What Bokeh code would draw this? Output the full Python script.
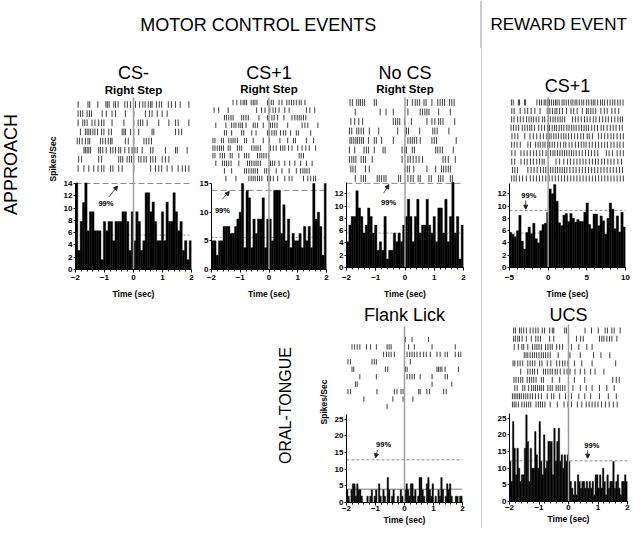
import numpy as np
from bokeh.plotting import figure
from bokeh.layouts import row, column
from bokeh.models import Range1d, Span, Label, Arrow, NormalHead, FixedTicker, Spacer
from bokeh.embed import file_html
from bokeh.resources import INLINE

FONT = "Liberation Sans"
EVENT_TIME = 0.0

# ---------------- data ----------------
# PSTH bin values (spikes/sec)
CSM_HIST = [14.1, 3.1, 7.8, 10.9, 14.1, 6.3, 9.4, 9.4, 6.3, 6.3, 6.3, 1.6, 7.8, 6.3, 7.8, 7.8, 4.7, 7.8, 7.8, 7.8,
            9.4, 9.4, 7.8, 3.1, 9.4, 4.7, 9.4, 7.8, 3.1, 4.7, 12.5, 12.5, 9.4, 11.0, 7.8, 4.7, 4.7, 9.4, 4.7, 11.0,
            7.8, 7.8, 12.5, 9.4, 6.3, 7.8, 3.1, 4.7, 1.6, 4.7]
CSP_HIST = [5, 5, 2.5, 5, 5, 7.5, 7.5, 7.5, 6.3, 6.3, 7.5, 8.8, 10, 15, 3.8, 13.8, 12.5, 3.8, 8.8, 6.3,
            8.8, 8.8, 12.5, 3.8, 8.8, 8.8, 5, 13.8, 13.8, 13.8, 6.3, 11.3, 5, 8.8, 3.8, 6.3, 5, 5, 6.3, 3.8,
            7.5, 5, 7.5, 3.8, 15, 8.8, 10, 7.5, 2.5, 15]
NOCS_HIST = [4.2, 6.9, 8.3, 8.3, 12.5, 9.7, 8.3, 5.6, 6.9, 9.7, 8.3, 5.6, 6.9, 2.8, 4.2, 2.8, 8.3, 1.4, 2.8, 2.8,
             5.6, 4.2, 5.6, 4.2, 6.9, 8.3, 11.1, 8.3, 4.2, 8.3, 11.1, 5.6, 6.9, 6.9, 11.1, 6.9, 5.6, 8.3, 4.2, 9.7,
             9.7, 5.6, 11.1, 4.2, 8.3, 13.9, 5.6, 8.3, 1.4, 6.9]
RWD_HIST = [5.7, 5.4, 5.0, 6.0, 8.5, 4.3, 3.0, 5.7, 6.6, 5.5, 7.2, 4.7, 4.0, 6.0, 7.0, 7.2, 9.0, 12.8, 12.0, 13.5,
            10.8, 7.3, 6.8, 8.5, 8.8, 7.5, 8.8, 8.0, 7.4, 7.8, 7.5, 7.5, 9.0, 10.5, 7.0, 6.3, 8.7, 8.7, 6.8, 8.4,
            7.6, 5.4, 8.0, 10.5, 9.5, 6.3, 8.4, 5.8, 9.0, 6.6]
FLANK_HIST = [3.8, 1.9, 0, 3.8, 5.6, 5.6, 1.9, 5.6, 3.8, 3.8, 1.9, 0, 0, 0, 1.9, 0, 1.9, 3.8, 0, 1.9,
              3.8, 0, 5.6, 1.9, 0, 3.8, 1.9, 0, 7.5, 3.8, 0, 1.9, 3.8, 0, 0, 1.9, 0, 3.8, 1.9, 0,
              3.8, 5.6, 3.8, 1.9, 5.6, 5.6, 1.9, 3.8, 0, 1.9, 7.5, 7.5, 3.8, 1.9, 0, 5.6, 7.5, 3.8, 1.9, 5.6,
              0, 1.9, 0, 3.8, 1.9, 7.5, 3.8, 0, 1.9, 5.6, 3.8, 5.6, 1.9, 0, 0, 1.9, 1.9, 0, 1.9, 1.9]
UCS_HIST = [12, 6, 24, 16, 8, 16, 10, 6, 8, 8, 16, 26, 18, 6, 16, 10, 10, 21, 14, 10,
            24, 12, 8, 20, 10, 12, 18, 18, 18, 8, 22, 12, 18, 22, 12, 14, 10, 14, 12, 14,
            12, 6, 4, 2, 6, 2, 8, 6, 4, 6, 6, 4, 6, 4, 6, 4, 6, 2, 8, 8,
            4, 8, 4, 10, 6, 2, 8, 4, 6, 6, 12, 4, 6, 8, 4, 2, 6, 6, 8, 6]

# 99% threshold and mean rate lines
THRESH = {"csm": 14.0, "csp": 13.8, "nocs": 13.7, "rwd": 9.3, "flank": 12.8, "ucs": 12.2}
MEAN = {"csm": 5.6, "csp": 5.6, "nocs": 5.6, "rwd": 5.6, "flank": 4.0, "ucs": None}

# raster spike times (sec), one list per trial, top trial first
CSM_RASTER = [
    [-1.91, -1.57, -1.51, -1.23, -0.95, -0.90, -0.84, -0.68, -0.62, -0.53, -0.30, -0.21, -0.10, 0.07, 0.21, 0.32, 0.40, 0.51, 0.59, 0.64, 0.79, 0.89, 0.97, 1.20, 1.31, 1.45, 1.61, 1.91],
    [-1.91, -1.83, -1.75, -1.60, -1.52, -1.45, -1.08, -0.94, -0.74, -0.62, -0.28, 0.01, 0.41, 0.55, 0.64, 0.82, 0.99, 1.16],
    [-1.91, -1.75, -1.68, -1.60, -1.43, -1.33, -1.20, -1.10, -1.02, -0.74, -0.33, 0.01, 0.16, 0.24, 0.32, 0.47, 0.87, 1.22, 1.45, 1.54, 1.91],
    [-1.83, -1.66, -1.60, -1.54, -1.48, -1.40, -1.33, -1.24, -1.10, -1.02, -0.85, -0.76, -0.39, -0.33, -0.28, -0.10, 0.01, 0.18, 0.64, 0.70, 1.45, 1.56, 1.66],
    [-1.94, -1.86, -1.77, -1.66, -1.57, -1.51, -1.14, -1.06, -0.97, -0.87, -0.79, -0.74, -0.28, -0.18, 0.01, 0.36, 0.44, 0.53, 0.62],
    [-1.71, -1.66, -1.60, -1.54, -1.48, -1.20, -1.14, -1.06, -0.94, -0.79, -0.71, -0.62, -0.51, -0.44, -0.30, -0.16, -0.05, 0.05, 0.13, 0.30, 0.59, 0.67, 1.10, 1.45, 1.51, 1.85],
    [-1.89, -1.79, -1.20, -1.10, -0.51, -0.44, -0.37, -0.22, -0.14, -0.07, 0.01, 0.18, 0.26, 0.36, 0.44, 0.59, 0.67, 0.76, 0.99, 1.10, 1.22],
    [-1.91, -1.71, -1.54, -1.37, -1.22, -1.10, -1.02, -0.79, -0.71, -0.51, -0.39, 0.01, 0.59, 0.76, 0.87, 0.97, 1.16, 1.33, 1.54, 1.68, 1.79, 1.91],
]
CSP_RASTER = [
    [-1.25, -1.12, -0.98, -0.90, -0.84, -0.78, -0.62, -0.55, -0.49, -0.42, -0.05, 0.08, 0.15, 0.35, 0.45, 0.62, 0.70, 0.78, 0.86, 0.95, 1.05, 1.12, 1.25],
    [-1.91, -1.75, -1.42, -0.43, -0.26, -0.14, 0.03, 0.14, 0.23, 0.35, 0.55, 0.70, 1.30, 1.42, 1.59],
    [-1.55, -1.48, -1.40, -1.32, -1.25, -0.95, -0.88, -0.80, -0.72, -0.35, -0.05, 0.10, 0.18, 0.30, 0.52, 0.80, 0.90, 0.98, 1.05, 1.12, 1.20, 1.28],
    [-1.85, -1.50, -1.30, -1.22, -1.15, -1.05, -0.98, -0.92, -0.80, -0.55, -0.48, -0.40, -0.20, 0.05, 0.12, 0.20, 0.28, 0.65, 1.15, 1.25, 1.35, 1.70],
    [-1.55, -1.48, -1.30, -0.95, -0.88, -0.60, -0.45, -0.05, 0.02, 0.10, 0.18, 0.25, 0.40, 0.50, 0.58, 0.75, 0.95, 1.02, 1.45],
    [-1.95, -1.88, -1.65, -1.58, -1.40, -1.32, -1.25, -1.18, -1.10, -0.85, -0.78, -0.55, -0.20, 0.02, 0.38, 0.65, 0.85, 0.92, 1.30, 1.55],
    [-1.95, -1.88, -1.80, -1.72, -1.65, -1.58, -1.42, -1.35, -1.10, -1.02, -0.95, -0.60, -0.52, -0.45, -0.38, -0.30, 0.05, 0.15, 0.25, 0.40, 0.48, 0.55, 0.68, 0.80, 1.00, 1.15, 1.28, 1.40, 1.62],
    [-1.95, -1.88, -1.70, -1.62, -1.55, -1.35, -1.28, -1.05, -0.85, -0.78, -0.70, -0.40, -0.32, -0.25, -0.18, -0.10, -0.02, 1.05, 1.12, 1.20],
    [-1.85, -1.62, -1.55, -1.48, -1.40, -1.32, -1.05, -0.75, -0.68, -0.60, -0.52, -0.45, -0.38, -0.30, 0.05, 0.12, 0.20, 0.35, 0.55, 0.72, 0.90, 1.10, 1.30, 1.50],
    [-1.55, -1.30, -0.85, -0.78, -0.70, -0.62, -0.55, -0.48, -0.40, -0.15, -0.08, 0.00, 0.25, 0.45, 0.70, 0.95, 1.10, 1.18, 1.25, 1.32, 1.40],
    [-1.50, -1.15, -0.70, -0.62, -0.55, -0.48, -0.40, -0.33, -0.25, -0.05, 0.05, 0.15, 0.30, 0.55, 0.70, 0.80, 1.20, 1.35, 1.45, 1.55, 1.62],
]
NOCS_RASTER = [
    [-1.88, -1.80, -1.65, -1.58, -1.52, -1.45, -1.38, -1.05, -0.98, 0.08, 0.25, 0.35, 0.42, 0.50, 0.65, 0.72, 0.92, 1.12, 1.20, 1.28, 1.35, 1.52, 1.60, 1.68],
    [-1.70, -0.85, -0.65, -0.40, 0.10, 0.52, 0.60, 0.68, 0.75, 0.82, 1.15, 1.55],
    [-1.85, -1.72, -1.58, -1.45, -0.40, -0.32, -0.25, -0.18, -0.02, 0.22, 0.75, 0.92, 1.02, 1.15, 1.22, 1.30, 1.70],
    [-1.90, -1.82, -1.65, -1.58, -1.50, -1.42, -1.22, -0.90, -0.25, 0.05, 0.12, 0.50, 0.95, 1.02, 1.10, 1.50],
    [-1.88, -1.82, -1.75, -1.68, -1.62, -1.55, -1.48, -1.42, -1.25, -1.05, -0.98, -0.80, -0.40, 0.10, 0.18, 0.25, 0.32, 0.40, 0.52, 0.92, 1.00, 1.08, 1.75],
    [-1.90, -1.72, -1.40, -1.32, -1.25, -1.05, -0.75, -0.68, -0.10, -0.02, 0.05, 0.25, 0.32, 1.05, 1.12, 1.20, 1.28, 1.65],
    [-1.90, -1.82, -1.75, -1.68, -1.50, -1.42, -1.35, -1.12, -0.10, 0.10, 0.18, 0.28, 0.38, 0.48, 0.60, 1.30, 1.38, 1.48, 1.72],
    [-1.85, -1.78, -1.70, -1.35, -1.22, 0.00, 0.08, 0.15, 0.30, 0.75, 1.05, 1.25, 1.32, 1.40, 1.48, 1.55],
    [-1.70, -1.50, -1.42, -1.35, -0.95, -0.88, -0.80, -0.72, -0.65, -0.22, -0.15, 0.10, 0.20, 0.28, 0.45, 0.52, 0.82, 0.90, 1.15, 1.22, 1.30, 1.55, 1.62],
]
RWD_RASTER = [
    [-4.75, -4.52, -3.85, -3.70, -3.05, -2.92, -1.45, -1.12, -0.85, -0.52, -0.30, -0.05, 0.18, 0.44, 0.70, 0.95, 1.15, 1.42, 1.80, 2.05, 2.33, 2.62, 2.95, 3.20, 3.48, 3.71, 4.02, 4.35, 4.60, 4.98, 5.25, 5.58, 5.83, 6.05, 6.40, 6.77, 7.02, 7.30, 7.66, 8.01, 8.35, 8.62, 9.00, 9.31, 9.68],
    [-4.70, -4.40, -3.62, -3.01, -2.65, -2.20, -1.72, -1.05, -0.12, 0.22, 0.55, 0.88, 1.12, 1.48, 1.85, 2.38, 2.95, 3.30, 3.75, 4.42, 4.95, 5.18, 5.52, 5.81, 6.15, 6.82, 7.26, 7.63, 8.24, 8.66, 9.12],
    [-4.72, -4.41, -3.95, -3.60, -3.22, -2.80, -2.48, -2.18, -1.88, -1.55, -1.20, -0.72, -0.45, 0.02, 0.28, 0.63, 0.91, 1.25, 1.55, 1.82, 2.14, 3.15, 3.52, 3.88, 4.28, 4.70, 5.05, 5.42, 5.84, 6.18, 6.63, 7.05, 7.44, 7.78, 8.20, 8.62, 9.02, 9.33, 9.62],
    [-4.80, -4.48, -4.15, -3.82, -3.35, -3.02, -2.70, -2.38, -2.12, -1.76, -1.22, -0.84, -0.48, -0.08, 0.18, 0.52, 0.83, 1.06, 1.42, 1.71, 2.03, 2.41, 2.70, 3.04, 3.33, 3.62, 3.98, 4.31, 4.64, 4.92, 5.22, 5.63, 6.01, 6.38, 6.85, 7.18, 7.62, 8.04, 8.41, 8.78, 9.21, 9.58],
    [-4.68, -4.30, -3.92, -3.02, -2.35, -1.92, -1.48, -1.02, -0.62, -0.18, 0.12, 0.38, 0.72, 1.02, 1.33, 1.68, 2.02, 2.31, 2.64, 3.02, 3.42, 3.81, 4.22, 4.58, 5.04, 5.31, 5.72, 6.52, 6.88, 7.31, 7.72, 8.12, 8.48, 8.91, 9.34, 9.72],
    [-4.72, -4.38, -4.02, -3.61, -2.62, -2.28, -1.62, -1.30, -1.02, -0.68, -0.41, -0.08, 0.21, 0.52, 0.83, 1.22, 1.58, 2.01, 2.28, 2.72, 3.08, 3.52, 3.92, 4.28, 4.62, 4.90, 5.32, 5.70, 6.11, 6.52, 6.92, 7.31, 7.68, 8.12, 8.51, 8.92, 9.28, 9.71],
    [-4.70, -4.28, -3.52, -3.12, -2.72, -2.31, -1.88, -1.52, -1.08, -0.72, -0.28, 0.02, 0.31, 0.62, 0.88, 1.21, 1.52, 1.82, 2.12, 2.41, 2.72, 3.02, 3.31, 3.62, 4.02, 4.41, 4.82, 5.22, 5.61, 6.02, 6.41, 7.52, 7.88, 8.31, 8.92, 9.32, 9.71],
    [-4.71, -4.32, -3.51, -3.08, -2.72, -2.28, -1.91, -1.48, -1.12, -0.78, -0.52, 1.02, 1.48, 2.02, 2.51, 2.88, 3.32, 3.72, 4.12, 4.51, 4.88, 5.32, 5.72, 6.12, 6.48, 6.92, 7.28, 7.72, 8.12, 8.52, 9.02, 9.48],
    [-4.62, -4.31, -3.98, -2.62, -2.21, -1.82, -1.42, -0.98, -0.62, -0.31, 0.02, 0.32, 0.61, 0.92, 1.22, 1.52, 1.81, 2.12, 2.42, 2.81, 3.22, 3.61, 4.02, 4.42, 4.81, 5.22, 5.62, 6.02, 6.42, 6.82, 7.22, 7.62, 8.02, 8.42, 8.82, 9.22, 9.61],
    [-4.72, -4.41, -4.12, -3.72, -3.31, -2.82, -2.31, -1.92, -1.52, -1.12, -0.72, -0.31, 0.12, 0.52, 0.92, 1.32, 1.72, 2.12, 2.52, 2.92, 3.32, 3.72, 4.12, 4.52, 4.92, 5.32, 5.72, 6.12, 6.52, 6.92, 7.32, 7.72, 8.12, 8.52, 8.92, 9.32, 9.72],
]
FLANK_RASTER = [
    [0.03, 0.26, 0.83],
    [-1.81, -1.72, -1.63, -1.54, -1.31, -1.17, -0.97, -0.60, -0.53, -0.46, 0.14, 0.34, 0.95, 1.75],
    [-0.72, -0.62, -0.54, -0.46, -0.35, 0.09, 0.18, 0.26, 0.34, 0.43, 0.54, 0.66, 0.75, 0.89, 1.12, 1.23, 1.40, 1.48, 1.75, 1.86, 1.94],
    [-1.95, -1.86, -1.12, -1.04, -0.97, 0.20],
    [-1.81, -1.75, -0.66, -0.58, 0.03, 0.09, 1.12, 1.17, 1.23, 1.29, 1.40, 1.86],
    [-1.54, -0.97, 0.09, 0.18, 0.26, 0.34, 0.54, 0.95, 1.40, 1.48],
    [-1.69, -1.63, 0.95, 1.63],
    [-1.95, -1.86, -0.95, -0.35, -0.26, -0.12, -0.05, 0.49, 0.54, 0.77, 0.86, 1.35, 1.44],
    [-1.40, -0.40, -0.05, 0.00, 0.29],
    [-0.60],
]
UCS_RASTER = [
    [-1.86, -1.80, -1.66, -1.60, -1.52, -1.43, -1.30, -1.20, -1.11, -1.03, -0.89, -0.81, -0.64, -0.55, -0.50, -0.13, -0.07, 0.56, 0.78, 1.01, 1.24, 1.32, 1.47, 1.55, 1.75],
    [-1.86, -1.80, -1.72, -1.66, -1.57, -1.43, -1.26, -1.11, -1.03, -0.95, -0.64, -0.50, 0.27, 0.41, 0.50, 1.05, 1.13, 1.20, 1.30, 1.39, 1.47, 1.64],
    [-1.84, -1.70, -1.58, -1.52, -1.38, -1.22, -1.14, -1.07, -1.00, -0.92, -0.78, -0.70, -0.62, -0.55, -0.40, -0.30, -0.20, 0.10, 0.35, 0.62, 0.80],
    [-1.50, -1.44, -1.38, -1.30, -1.22, -1.15, -1.08, -1.00, -0.92, -0.85, -0.78, -0.70, -0.62, -0.35, 0.05, 0.40, 0.85, 1.10, 1.40],
    [-1.88, -1.82, -1.72, -1.64, -1.55, -1.38, -1.30, -1.22, -1.14, -0.98, -0.90, -0.72, -0.60, -0.40, -0.30, -0.20, -0.12, -0.02, 0.20, 0.45, 0.80, 1.60],
    [-1.62, -1.38, -1.30, -1.22, -1.15, -1.05, -0.85, -0.78, -0.70, -0.62, -0.55, -0.45, -0.38, -0.28, -0.15, -0.05, 0.05, 0.22, 0.40, 0.55, 0.75, 0.90, 1.20],
    [-1.85, -1.78, -1.70, -1.62, -1.55, -1.40, -1.32, -1.25, -1.18, -1.10, -0.92, -0.85, -0.55, -0.30, 0.20, 0.55, 1.50, 1.62, 1.72],
    [-1.82, -1.74, -1.55, -1.48, -1.35, -1.25, -1.18, -1.12, -1.05, -0.98, -0.92, -0.85, -0.70, -0.62, -0.55, -0.42, -0.35, -0.28, -0.20, -0.12, 0.00, 0.15, 0.40, 0.60, 0.80, 1.05, 1.30, 1.55],
    [-1.90, -1.84, -1.78, -1.72, -1.66, -1.60, -1.52, -1.45, -1.38, -1.30, -1.22, -1.12, -1.02, -0.92, -0.72, -0.58, -0.50, -0.30, -0.10, 0.10, 0.35, 0.55, 0.75, 1.05, 1.35, 1.62],
    [-1.90, -1.84, -1.78, -1.70, -1.58, -1.50, -1.42, -1.35, -1.28, -1.10, -1.02, -0.95, -0.88, -0.80, -0.62, -0.38, -0.15, -0.02, 0.10, 0.30, 0.45, 0.60, 0.70, 0.80, 0.90, 1.00, 1.12, 1.25, 1.38, 1.52, 1.65],
]

# axis ticks
T4_TICKS = [-2, -1, 0, 1, 2]
T15_TICKS = [-5, 0, 5, 10]

# ---------------- layout (page pixels) ----------------
PAGE_W, PAGE_H = 636, 528
ROW1_Y, ROW2_Y = 48, 300
DIV_X = 480

PANELS = [
    dict(key="csm", hist=CSM_HIST, raster=CSM_RASTER, x=(-2, 2), xt=T4_TICKS, xm=0.2,
         yt=[0, 2, 4, 6, 8, 10, 12, 14], ytop=14.0, ylabel="Spikes/Sec",
         fig=(40, 196, ROW1_Y, ROW2_Y), frame=(75, 191), base=269, ppu=86 / 14,
         rows=(104, 168), vline_top=97, tick_std=2, lab_std=6,
         titles=[("CS-", 72, "18px", "normal"), ("Right Step", 89, "11.5px", "bold")],
         ann=dict(text=(-0.95, 10.7), a0=(-0.85, 11.8), a1=(-0.55, 13.6))),
    dict(key="csp", hist=CSP_HIST, raster=CSP_RASTER, x=(-2, 2), xt=T4_TICKS, xm=0.2,
         yt=[0, 5, 10, 15], ytop=15.0, ylabel=None,
         fig=(196, 330, ROW1_Y, ROW2_Y), frame=(210, 325), base=269, ppu=86 / 15,
         rows=(102, 178), vline_top=97, tick_std=2, lab_std=6,
         titles=[("CS+1", 72, "18px", "normal"), ("Right Step", 88, "11.5px", "bold")],
         ann=dict(text=(-1.62, 10.3), a0=(-1.62, 12.3), a1=(-1.38, 13.6))),
    dict(key="nocs", hist=NOCS_HIST, raster=NOCS_RASTER, x=(-2, 2), xt=T4_TICKS, xm=0.2,
         yt=[0, 2, 4, 6, 8, 10, 12], ytop=13.9, ylabel=None,
         fig=(330, DIV_X, ROW1_Y, ROW2_Y), frame=(345, 462), base=267, ppu=73.7 / 12,
         rows=(102, 178), vline_top=97, tick_std=4, lab_std=6,
         titles=[("No CS", 72, "18px", "normal"), ("Right Step", 88, "11.5px", "bold")],
         ann=dict(text=(-0.56, 10.6), a0=(-0.73, 12.1), a1=(-0.55, 13.5))),
    dict(key="rwd", hist=RWD_HIST, raster=RWD_RASTER, x=(-5, 10), xt=T15_TICKS, xm=1.0,
         yt=[0, 2, 4, 6, 8, 10, 12], ytop=13.6, ylabel=None,
         fig=(DIV_X + 1, PAGE_W, ROW1_Y, ROW2_Y), frame=(506, 622), base=267, ppu=73.7 / 12,
         rows=(102, 178), vline_top=97, tick_std=4, lab_std=6,
         titles=[("CS+1", 85, "18px", "normal")],
         ann=dict(text=(-2.5, 11.7), a0=(-2.9, 10.9), a1=(-2.9, 9.5))),
    dict(key="flank", hist=FLANK_HIST, raster=FLANK_RASTER, x=(-2, 2), xt=T4_TICKS, xm=0.2,
         yt=[0, 5, 10, 15, 20, 25], ytop=26.3, ylabel="Spikes/Sec",
         fig=(300, DIV_X, ROW2_Y, PAGE_H), frame=(346, 462), base=501, ppu=83.3 / 25,
         rows=(338, 405), vline_top=325, tick_std=0, lab_std=1,
         titles=[("Flank Lick", 313, "18px", "normal")],
         ann=dict(text=(-0.72, 17.4), a0=(-0.93, 15.7), a1=(-1.0, 13.4))),
    dict(key="ucs", hist=UCS_HIST, raster=UCS_RASTER, x=(-2, 2), xt=T4_TICKS, xm=0.2,
         yt=[0, 5, 10, 15, 20, 25], ytop=26.5, ylabel=None,
         fig=(DIV_X + 1, 632, ROW2_Y, PAGE_H), frame=(508, 626), base=500, ppu=83.3 / 25,
         rows=(329, 403), vline_top=323, tick_std=0, lab_std=1,
         titles=[("UCS", 313, "18px", "normal")],
         ann=dict(text=(0.79, 16.8), a0=(0.65, 15.4), a1=(0.65, 13.0))),
]


def blank(w, h):
    f = figure(width=w, height=h, x_range=Range1d(0, w), y_range=Range1d(0, h),
               x_axis_location=None, y_axis_location=None, title=None,
               toolbar_location=None, output_backend="svg", min_border=0)
    f.grid.visible = False
    f.outline_line_color = None
    return f


def panel(sp):
    fx0, fx1, fy0, fy1 = sp["fig"]
    B, T, k = sp["base"], fy0, sp["ppu"]
    x0, x1 = sp["x"]
    fl, fr = sp["frame"]
    f = figure(frame_width=fr - fl, frame_height=B - T,
               x_range=Range1d(x0, x1), y_range=Range1d(0, (B - T) / k),
               min_border_left=fl - fx0, min_border_right=fx1 - fr,
               min_border_top=0, min_border_bottom=fy1 - B, title=None,
               toolbar_location=None, output_backend="svg")
    f.grid.visible = False
    f.outline_line_color = None

    raster = sp["raster"]
    n = len(raster)
    r_top, r_bot = sp["rows"]
    pitch = (r_bot - r_top) / (n - 1)
    rs, re = (r_bot - B) / pitch, (r_bot - T) / pitch
    f.extra_y_ranges = {"r": Range1d(rs, re)}

    # threshold & mean lines (under bars)
    f.add_layout(Span(location=THRESH[sp["key"]], dimension="width", line_color="#8a8a8a",
                      line_dash="6 3" if sp["key"] in ("csm", "csp", "nocs") else "3 2",
                      line_width=1, level="underlay"))
    if MEAN[sp["key"]] is not None:
        solid = sp["key"] == "flank"
        f.add_layout(Span(location=MEAN[sp["key"]], dimension="width", line_color="#7a7a7a",
                          line_dash="solid" if solid else "2 2", line_width=1 if solid else 0.8,
                          level="underlay"))

    # histogram
    vals = np.array(sp["hist"], dtype=float)
    edges = np.linspace(x0, x1, len(vals) + 1)
    f.quad(left=edges[:-1], right=edges[1:], bottom=0, top=vals,
           fill_color="black", line_color="black", line_width=0.4)

    # raster
    xs, ys = [], []
    for i, trial in enumerate(raster):
        v = n - 1 - i
        for t in trial:
            xs.append(t)
            ys.append(v)
    xs = np.array(xs)
    ys = np.array(ys, dtype=float)
    half = 0.36
    f.segment(x0=xs, y0=ys - half, x1=xs, y1=ys + half, y_range_name="r",
              line_color="#2a2a2a", line_width=0.9)

    # event line
    f.segment(x0=[EVENT_TIME], y0=[rs], x1=[EVENT_TIME], y1=[(r_bot - sp["vline_top"]) / pitch],
              y_range_name="r", line_color="#a0a0a0", line_width=1.5)

    # titles
    for text, ypx, size, style in sp["titles"]:
        f.add_layout(Label(x=(x0 + x1) / 2, y=(r_bot - ypx) / pitch, y_range_name="r", text=text,
                           text_align="center", text_baseline="middle", text_font=FONT,
                           text_font_size=size, text_font_style=style, text_color="black"))

    # 99% annotation
    a = sp["ann"]
    f.add_layout(Label(x=a["text"][0], y=a["text"][1], text="99%", text_align="center",
                       text_baseline="middle", text_font=FONT, text_font_size="7.5px",
                       text_font_style="bold", text_color="black"))
    f.add_layout(Arrow(x_start=a["a0"][0], y_start=a["a0"][1], x_end=a["a1"][0], y_end=a["a1"][1],
                       line_width=0.8, line_color="#222222",
                       end=NormalHead(size=4, fill_color="#222222", line_color="#222222")))

    # axes
    xm = sp["xm"]
    minor = [round(v, 3) for v in np.arange(x0, x1 + 1e-9, xm)]
    f.xaxis.ticker = FixedTicker(ticks=sp["xt"], minor_ticks=minor)
    f.yaxis.ticker = FixedTicker(ticks=sp["yt"])
    f.yaxis.bounds = (0, sp["ytop"])
    f.xaxis.axis_label = "Time (sec)"
    f.xaxis.axis_label_standoff = sp["lab_std"]
    f.xaxis.major_label_standoff = sp["tick_std"]
    f.yaxis.major_label_standoff = 1
    if sp["ylabel"]:
        f.yaxis.axis_label = sp["ylabel"]
        f.yaxis.axis_label_standoff = 3
    for ax in (f.xaxis[0], f.yaxis[0]):
        ax.axis_line_color = "black"
        ax.axis_line_width = 1
        ax.major_tick_line_color = "black"
        ax.major_tick_out = 3
        ax.major_tick_in = 0
        ax.minor_tick_out = 2
        ax.minor_tick_in = 0
        ax.major_label_text_font = FONT
        ax.major_label_text_font_size = "8px"
        ax.major_label_text_font_style = "bold"
        ax.major_label_text_color = "black"
        ax.axis_label_text_font = FONT
        ax.axis_label_text_font_size = "8.5px"
        ax.axis_label_text_font_style = "bold"
        ax.axis_label_text_color = "black"
    f.yaxis.minor_tick_line_color = None
    f.yaxis.major_tick_out = 2
    return f


P = [panel(sp) for sp in PANELS]

HDR_H = ROW1_Y
R1_H = ROW2_Y - ROW1_Y
R2_H = PAGE_H - ROW2_Y

# one full-width header strip holding both section titles and the top of the divider
header = blank(PAGE_W, HDR_H)
header.add_layout(Label(x=258, y=HDR_H - 24, text="MOTOR CONTROL EVENTS", text_align="center",
                        text_baseline="middle", text_font=FONT, text_font_size="18px",
                        text_color="black"))
header.add_layout(Label(x=490, y=HDR_H - 24, text="REWARD EVENT", text_align="left",
                        text_baseline="middle", text_font=FONT, text_font_size="17px",
                        text_color="black"))
header.add_layout(Span(location=DIV_X + 0.5, dimension="height", line_color="#9a9a9a",
                       line_width=1))

approach = blank(40, R1_H)
approach.add_layout(Label(x=10, y=R1_H - (182 - ROW1_Y), text="APPROACH", angle=np.pi / 2,
                          text_align="center", text_baseline="middle", text_font=FONT,
                          text_font_size="18px", text_color="black"))
oral = blank(30, R2_H)
oral.add_layout(Label(x=15, y=R2_H - (418 - ROW2_Y), text="ORAL-TONGUE", angle=np.pi / 2,
                      text_align="center", text_baseline="middle", text_font=FONT,
                      text_font_size="16px", text_color="black"))

divider = figure(width=1, height=PAGE_H - HDR_H, x_axis_location=None, y_axis_location=None,
                 title=None, toolbar_location=None, output_backend="svg", min_border=0,
                 background_fill_color="#9a9a9a", border_fill_color="#9a9a9a")
divider.outline_line_color = None
divider.grid.visible = False

left_body = column(row(approach, P[0], P[1], P[2]),
                   row(Spacer(width=270, height=R2_H), oral, P[4]))
right_body = column(P[3], P[5])
root = column(header, row(left_body, divider, right_body))

open("out.html", "w").write(file_html(root, INLINE))
